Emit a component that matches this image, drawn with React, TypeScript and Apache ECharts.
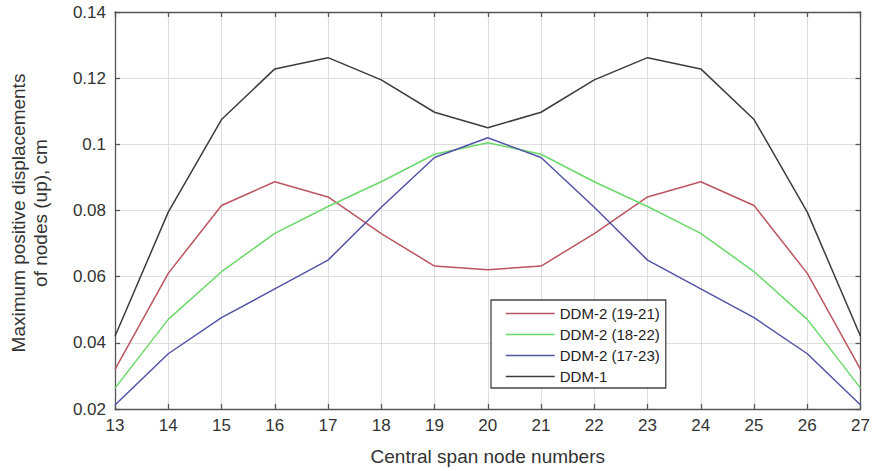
import React, { useEffect, useRef } from "react";
import * as echarts from "echarts";

const nodes = [13, 14, 15, 16, 17, 18, 19, 20, 21, 22, 23, 24, 25, 26, 27];
const ddm2_19_21 = [0.032, 0.061, 0.0815, 0.0887, 0.0841, 0.073, 0.0632, 0.0621, 0.0632, 0.073, 0.0841, 0.0887, 0.0815, 0.061, 0.032];
const ddm2_18_22 = [0.0263, 0.0471, 0.0615, 0.0731, 0.0812, 0.0887, 0.097, 0.1005, 0.097, 0.0887, 0.0812, 0.0731, 0.0615, 0.0471, 0.0263];
const ddm2_17_23 = [0.0212, 0.0367, 0.0476, 0.0563, 0.065, 0.081, 0.096, 0.102, 0.096, 0.081, 0.065, 0.0563, 0.0476, 0.0367, 0.0212];
const ddm1 = [0.042, 0.0795, 0.1075, 0.1228, 0.1262, 0.1195, 0.1097, 0.105, 0.1097, 0.1195, 0.1262, 0.1228, 0.1075, 0.0795, 0.042];

const seriesNames = ["DDM-2 (19-21)", "DDM-2 (18-22)", "DDM-2 (17-23)", "DDM-1"];
const seriesData = [ddm2_19_21, ddm2_18_22, ddm2_17_23, ddm1];
const seriesColors = ["#bb5560", "#6ad96a", "#5353a8", "#3c3c3c"];

const xTitle = "Central span node numbers";
const yTitle = "Maximum positive displacements\nof nodes (up), cm";

const FONT = "Liberation Sans, Arial, sans-serif";

export default function App() {
  const ref = useRef<HTMLDivElement>(null);
  useEffect(() => {
    if (!ref.current) return;
    const chart = echarts.init(ref.current, null, { renderer: "svg" });
    const axisLine = { show: true, lineStyle: { color: "#555", width: 1.3 } };
    const tick = { show: true, inside: true, length: 5, lineStyle: { color: "#555", width: 1.3 } };
    chart.setOption({
      animation: false,
      backgroundColor: "#fff",
      textStyle: { fontFamily: FONT },
      grid: { left: 115, top: 12, right: 11, bottom: 60, containLabel: false },
      legend: {
        orient: "vertical",
        left: 491,
        top: 300,
        data: seriesNames,
        itemWidth: 49,
        itemHeight: 15,
        itemGap: 6,
        padding: [6, 6, 4, 14],
        borderColor: "#444",
        borderWidth: 1.3,
        backgroundColor: "#fff",
        itemStyle: { opacity: 0 },
        lineStyle: { width: 1.5 },
        textStyle: { fontFamily: FONT, fontSize: 15, color: "#222", lineHeight: 15 },
      },
      xAxis: [
        {
          type: "value",
          min: 13,
          max: 27,
          interval: 1,
          position: "bottom",
          name: xTitle,
          nameLocation: "middle",
          nameGap: 38,
          nameTextStyle: { fontFamily: FONT, fontSize: 19, color: "#333" },
          axisLine,
          axisTick: tick,
          axisLabel: { fontFamily: FONT, fontSize: 17, color: "#333", margin: 8 },
          splitLine: { show: true, lineStyle: { color: "#dedede", width: 1 } },
        },
        {
          type: "value",
          min: 13,
          max: 27,
          interval: 1,
          position: "top",
          axisLine,
          axisTick: tick,
          axisLabel: { show: false },
          splitLine: { show: false },
        },
      ],
      yAxis: [
        {
          type: "value",
          min: 0.02,
          max: 0.14,
          interval: 0.02,
          position: "left",
          axisLine,
          axisTick: tick,
          axisLabel: {
            fontFamily: FONT,
            fontSize: 17,
            color: "#333",
            margin: 9,
            formatter: (v: number) => String(+v.toFixed(2)),
          },
          splitLine: { show: true, lineStyle: { color: "#dedede", width: 1 } },
        },
        {
          type: "value",
          min: 0.02,
          max: 0.14,
          interval: 0.02,
          position: "right",
          axisLine,
          axisTick: tick,
          axisLabel: { show: false },
          splitLine: { show: false },
        },
      ],
      graphic: [
        {
          type: "text",
          x: 29,
          y: 213,
          rotation: Math.PI / 2,
          style: {
            text: yTitle,
            fontFamily: FONT,
            fontSize: 19,
            lineHeight: 22,
            fill: "#333",
            align: "center",
            verticalAlign: "middle",
          },
        },
      ],
      series: seriesNames.map((name, i) => ({
        name,
        type: "line",
        xAxisIndex: 0,
        yAxisIndex: 0,
        symbol: "none",
        data: nodes.map((n, j) => [n, seriesData[i][j]]),
        lineStyle: { color: seriesColors[i], width: 1.5 },
        itemStyle: { color: seriesColors[i] },
      })),
    });
    return () => chart.dispose();
  }, []);
  return <div ref={ref} style={{ position: "fixed", left: 0, top: 0, width: 873, height: 471 }} />;
}
